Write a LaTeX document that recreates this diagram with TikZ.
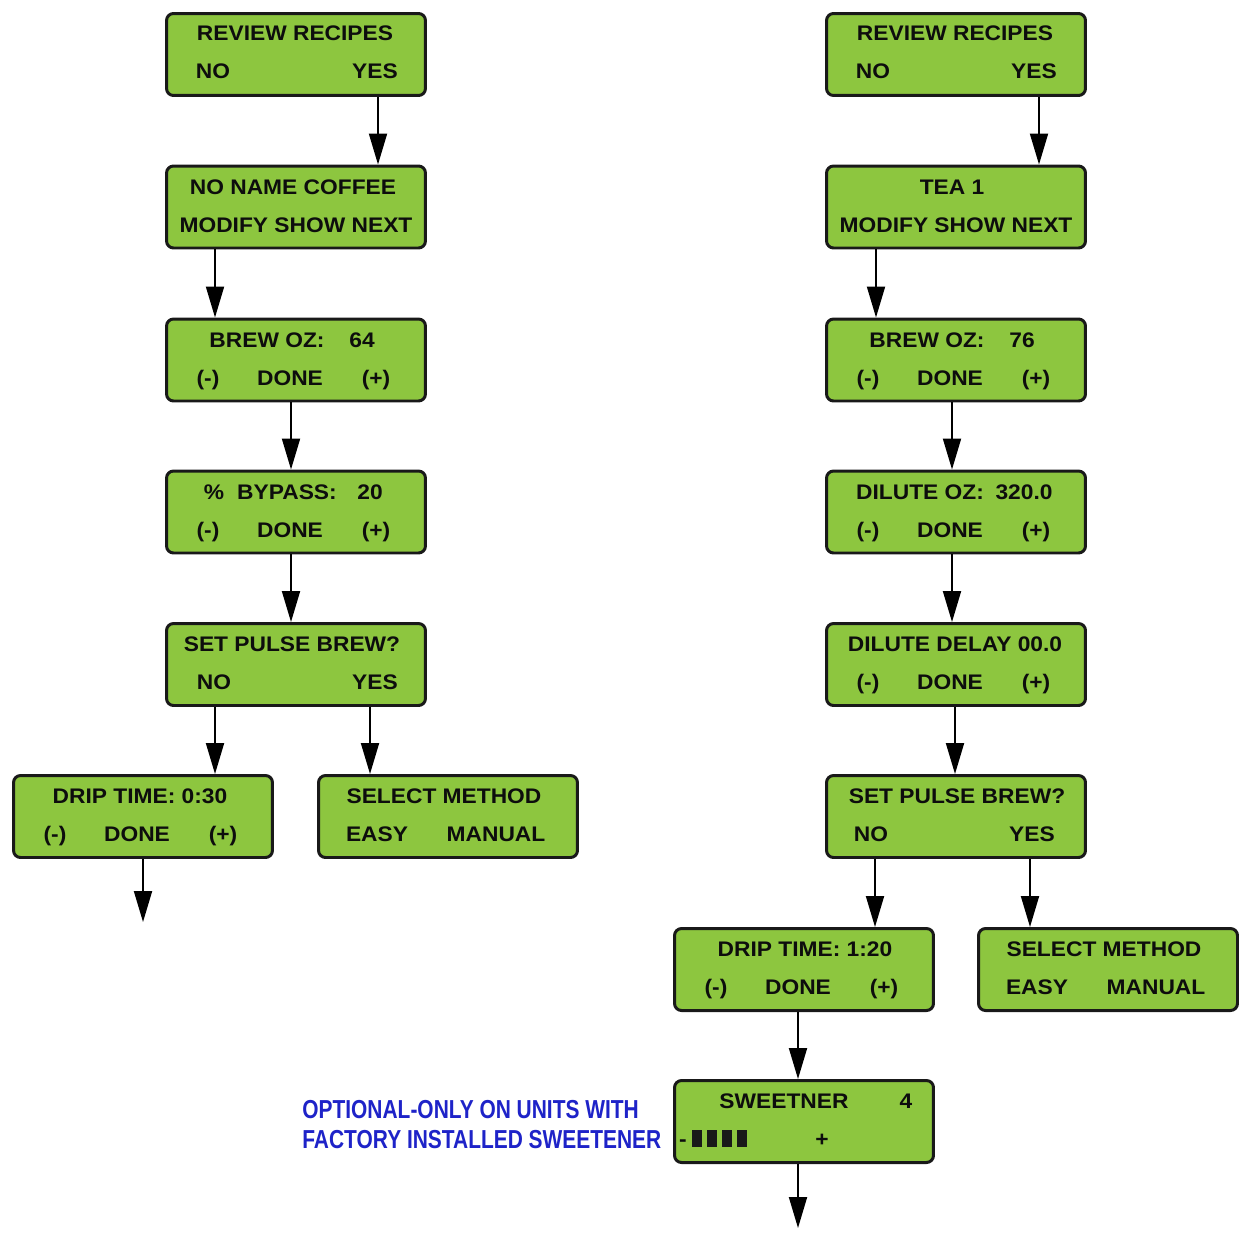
\documentclass[tikz,border=0pt]{standalone}
\usepackage{fontspec}
\setmainfont{Liberation Sans}[FakeStretch=1.08]
\newfontfamily\narrowfont{Liberation Sans}[FakeStretch=0.805]
\usetikzlibrary{positioning, arrows.meta}
\definecolor{lcdgreen}{RGB}{141,198,63}
\definecolor{noteblue}{RGB}{30,35,200}

\begin{document}
\begin{tikzpicture}[
    x=0.02cm, y=-0.02cm,
    lcd/.style={draw=black!90, line width=1.7pt, fill=lcdgreen, rounded corners=4pt,
        minimum width=5.18cm, minimum height=1.64cm, inner sep=0pt},
    txt/.style={anchor=base, inner sep=0pt, font=\fontsize{12}{14}\selectfont\bfseries, text=black!95},
    note/.style={anchor=base west, inner sep=0pt, font=\narrowfont\fontsize{14.8}{16}\selectfont\bfseries, text=noteblue},
    arr/.style={line width=1.1pt, -{Triangle[width=0.36cm, length=0.62cm]}},
    bar/.style={fill=black!90, draw=none}
]
    \useasboundingbox (0,0) rectangle (1243,1237);

    % Boxes, left column (coffee)
    \node[lcd] (L1) at (296,54.5) {};
    \node[lcd] (L2) at (296,207) {};
    \node[lcd] (L3) at (296,360) {};
    \node[lcd] (L4) at (296,512) {};
    \node[lcd] (L5) at (296,664.5) {};
    \node[lcd] (L6) at (143,816.5) {};
    \node[lcd] (L7) at (448,816.5) {};

    % Boxes, right column (tea)
    \node[lcd] (R1) at (956,54.5) {};
    \node[lcd] (R2) at (956,207) {};
    \node[lcd] (R3) at (956,360) {};
    \node[lcd] (R4) at (956,512) {};
    \node[lcd] (R5) at (956,664.5) {};
    \node[lcd] (R6) at (956,816.5) {};
    \node[lcd] (R7) at (804,969.5) {};
    \node[lcd] (R8) at (1108,969.5) {};
    \node[lcd] (R9) at (804,1121.5) {};

    % Texts, left column
    \node[txt] (L1a) at (295,41) {REVIEW RECIPES};
    \node[txt] (L1b) at (213,79) {NO};
    \node[txt] (L1c) at (375,79) {YES};
    \node[txt] (L2a) at (293,194) {NO NAME COFFEE};
    \node[txt] (L2b) at (296,232) {MODIFY SHOW NEXT};
    \node[txt] (L3a) at (267,347) {BREW OZ:};
    \node[txt] (L3b) at (362,347) {64};
    \node[txt] (L4a) at (214,499) {\%};
    \node[txt] (L4b) at (287,499) {BYPASS:};
    \node[txt] (L4c) at (370,499) {20};
    \node[txt] (L5a) at (292,651) {SET PULSE BREW?};
    \node[txt] (L5b) at (214,689) {NO};
    \node[txt] (L5c) at (375,689) {YES};
    \node[txt] (L6a) at (140,803) {DRIP TIME: 0:30};
    \node[txt] (L7a) at (444,803) {SELECT METHOD};
    \node[txt] (L7b) at (377,841) {EASY};
    \node[txt] (L7c) at (496,841) {MANUAL};

    % Texts, right column
    \node[txt] (R1a) at (955,41) {REVIEW RECIPES};
    \node[txt] (R1b) at (873,79) {NO};
    \node[txt] (R1c) at (1034,79) {YES};
    \node[txt] (R2a) at (952,194) {TEA 1};
    \node[txt] (R2b) at (956,232) {MODIFY SHOW NEXT};
    \node[txt] (R3a) at (927,347) {BREW OZ:};
    \node[txt] (R3b) at (1022,347) {76};
    \node[txt] (R4a) at (920,499) {DILUTE OZ:};
    \node[txt] (R4b) at (1024,499) {320.0};
    \node[txt] (R5a) at (955,651) {DILUTE DELAY 00.0};
    \node[txt] (R6a) at (957,803) {SET PULSE BREW?};
    \node[txt] (R6b) at (871,841) {NO};
    \node[txt] (R6c) at (1032,841) {YES};
    \node[txt] (R7a) at (805,956) {DRIP TIME: 1:20};
    \node[txt] (R8a) at (1104,956) {SELECT METHOD};
    \node[txt] (R8b) at (1037,994) {EASY};
    \node[txt] (R8c) at (1156,994) {MANUAL};
    \node[txt] (R9a) at (784,1108) {SWEETNER};
    \node[txt] (R9b) at (906,1108) {4};
    \node[txt] (R9c) at (683,1146) {-};
    \node[txt] (R9d) at (822,1146) {+};
    \foreach \i in {0,...,3}
        \fill[bar] (692+\i*15,1130) rectangle ++(9.5,17);

    % (-) DONE (+) rows
    \foreach \b/\lx/\ty in {L3/165/318, L4/165/470, L6/12/774, R3/825/318,
                             R4/825/470, R5/825/622, R7/673/927} {
        \node[txt] (\b m) at (\lx+43,\ty+67) {(-)};
        \node[txt] (\b d) at (\lx+125,\ty+67) {DONE};
        \node[txt] (\b p) at (\lx+211,\ty+67) {(+)};
    }

    % Note
    \node[note] (N1) at (302,1118) {OPTIONAL-ONLY ON UNITS WITH};
    \node[note] (N2) at (302,1148) {FACTORY INSTALLED SWEETENER};

    % Free ends
    \coordinate (Lend) at (143,922);
    \coordinate (Rend) at (798,1228);

    % Connectors, left
    \draw[arr] (L1.south -| 378,0) -- (L2.north -| 378,0);
    \draw[arr] (L2.south -| 215,0) -- (L3.north -| 215,0);
    \draw[arr] (L3.south -| 291,0) -- (L4.north -| 291,0);
    \draw[arr] (L4.south -| 291,0) -- (L5.north -| 291,0);
    \draw[arr] (L5.south -| 215,0) -- (L6.north -| 215,0);
    \draw[arr] (L5.south -| 370,0) -- (L7.north -| 370,0);
    \draw[arr] (L6.south) -- (Lend);

    % Connectors, right
    \draw[arr] (R1.south -| 1039,0) -- (R2.north -| 1039,0);
    \draw[arr] (R2.south -| 876,0) -- (R3.north -| 876,0);
    \draw[arr] (R3.south -| 952,0) -- (R4.north -| 952,0);
    \draw[arr] (R4.south -| 952,0) -- (R5.north -| 952,0);
    \draw[arr] (R5.south -| 955,0) -- (R6.north -| 955,0);
    \draw[arr] (R6.south -| 875,0) -- (R7.north -| 875,0);
    \draw[arr] (R6.south -| 1030,0) -- (R8.north -| 1030,0);
    \draw[arr] (R7.south -| 798,0) -- (R9.north -| 798,0);
    \draw[arr] (R9.south -| 798,0) -- (Rend);

\end{tikzpicture}
\end{document}
